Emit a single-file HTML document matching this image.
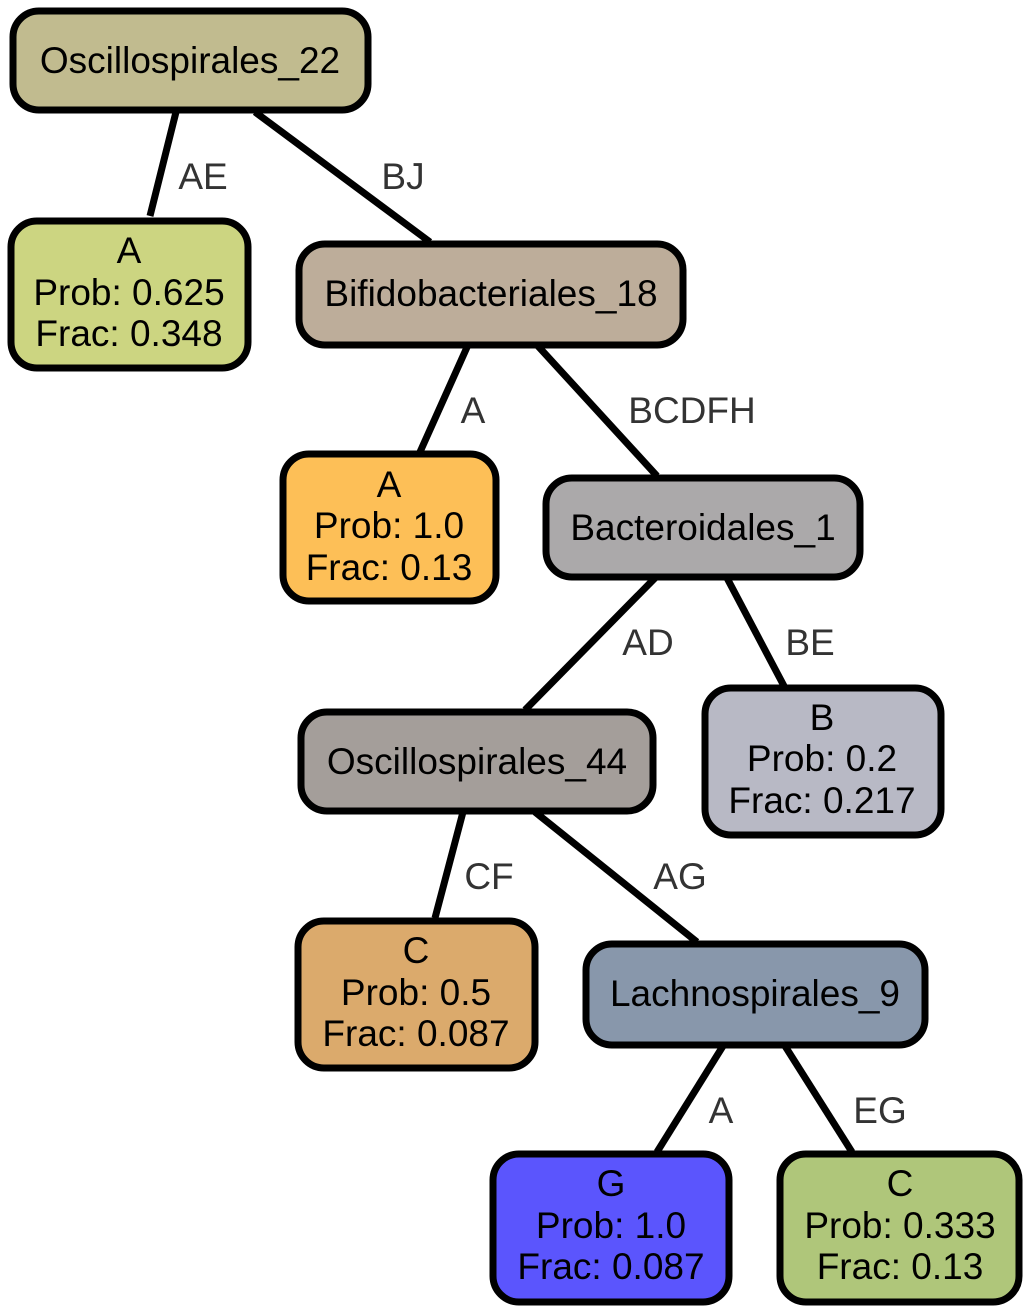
<!DOCTYPE html>
<html><head><meta charset="utf-8"><style>html,body{margin:0;padding:0;background:#fff}svg{display:block}</style></head><body>
<svg width="1031" height="1313" viewBox="0 0 1031 1313" xmlns="http://www.w3.org/2000/svg" font-family="Liberation Sans, Arial, sans-serif">
<g stroke="#000" stroke-width="7" fill="none">
<line x1="176" y1="112" x2="150" y2="216"/>
<line x1="255" y1="112" x2="430" y2="242"/>
<line x1="468" y1="345" x2="420" y2="452"/>
<line x1="537" y1="345" x2="657" y2="476"/>
<line x1="655" y1="578" x2="525" y2="710"/>
<line x1="727" y1="578" x2="784" y2="686"/>
<line x1="463" y1="812" x2="435" y2="918"/>
<line x1="535" y1="812" x2="697" y2="942"/>
<line x1="723" y1="1046" x2="657" y2="1152"/>
<line x1="785" y1="1046" x2="852" y2="1152"/>
</g>
<g font-size="37" fill="#333" text-anchor="middle">
<text x="203" y="189">AE</text>
<text x="403" y="189">BJ</text>
<text x="473" y="423">A</text>
<text x="692" y="423">BCDFH</text>
<text x="648" y="655">AD</text>
<text x="810" y="655">BE</text>
<text x="489" y="889">CF</text>
<text x="680" y="889">AG</text>
<text x="721" y="1123">A</text>
<text x="880" y="1123">EG</text>
</g>
<g stroke="#000" stroke-width="7">
<rect x="13" y="11" width="355" height="99" rx="26" fill="#c1bb8f"/>
<rect x="11" y="221" width="237" height="147" rx="26" fill="#ccd581"/>
<rect x="299" y="244" width="384" height="101" rx="26" fill="#bdad9a"/>
<rect x="283" y="454" width="213" height="147" rx="26" fill="#fdbf57"/>
<rect x="546" y="478" width="314" height="99" rx="26" fill="#aba9aa"/>
<rect x="301" y="712" width="352" height="99" rx="26" fill="#a49e9a"/>
<rect x="705" y="688" width="236" height="147" rx="26" fill="#b8b9c5"/>
<rect x="298" y="921" width="237" height="147" rx="26" fill="#dbaa6c"/>
<rect x="586" y="944" width="339" height="101" rx="26" fill="#8897ab"/>
<rect x="493" y="1154" width="236" height="148" rx="26" fill="#5b55fd"/>
<rect x="780" y="1154" width="239" height="148" rx="26" fill="#afc67a"/>
</g>
<g font-size="37" fill="#000" text-anchor="middle">
<text x="190" y="73">Oscillospirales_22</text>
<text x="129" y="263">A</text><text x="129" y="305">Prob: 0.625</text><text x="129" y="346">Frac: 0.348</text>
<text x="491" y="306">Bifidobacteriales_18</text>
<text x="389" y="497">A</text><text x="389" y="538">Prob: 1.0</text><text x="389" y="580">Frac: 0.13</text>
<text x="703" y="540">Bacteroidales_1</text>
<text x="477" y="774">Oscillospirales_44</text>
<text x="822" y="730">B</text><text x="822" y="771">Prob: 0.2</text><text x="822" y="813">Frac: 0.217</text>
<text x="416" y="963">C</text><text x="416" y="1005">Prob: 0.5</text><text x="416" y="1046">Frac: 0.087</text>
<text x="755" y="1006">Lachnospirales_9</text>
<text x="611" y="1196">G</text><text x="611" y="1238">Prob: 1.0</text><text x="611" y="1279">Frac: 0.087</text>
<text x="900" y="1196">C</text><text x="900" y="1238">Prob: 0.333</text><text x="900" y="1279">Frac: 0.13</text>
</g>
</svg>
</body></html>
